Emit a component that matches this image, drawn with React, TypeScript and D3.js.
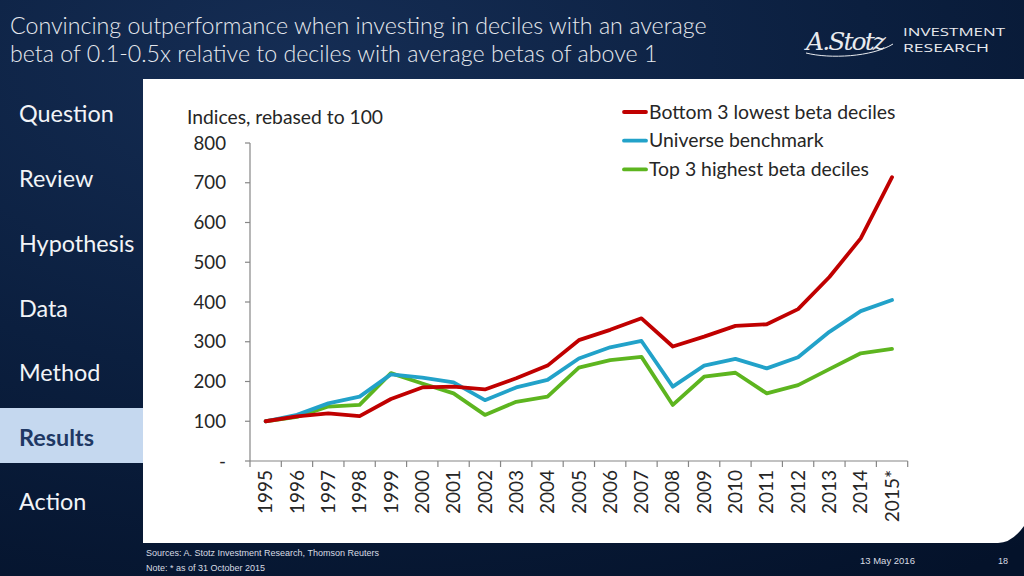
import React from "react";
import * as d3 from "d3";

const years = ["1995","1996","1997","1998","1999","2000","2001","2002","2003","2004","2005","2006","2007","2008","2009","2010","2011","2012","2013","2014","2015*"];
const lowBeta = [100,112,120,113,156,185,187,180,208,240,304,330,359,288,313,340,344,382,463,560,714];
const universe = [100,116,145,162,218,210,198,153,185,204,258,286,302,187,240,257,233,261,325,377,405];
const highBeta = [100,111,137,141,221,195,170,116,149,162,235,254,262,141,212,222,170,191,231,271,282];
const yTicks = [0,100,200,300,400,500,600,700,800];
const seriesNames = ["Bottom 3 lowest beta deciles","Universe benchmark","Top 3 highest beta deciles"];
const seriesColors = ["#c00000","#22a2c9","#5db51f"];
const navItems = ["Question","Review","Hypothesis","Data","Method","Results","Action"];
const titleLines = ["Convincing outperformance when investing in deciles with an average","beta of 0.1-0.5x relative to deciles with average betas of above 1"];

const FONT = "Lato, 'Open Sans', sans-serif";

export default function App() {
  const W = 1024, H = 576;
  const x = d3.scaleBand().domain(years).range([250, 907.7]);
  const y = d3.scaleLinear().domain([0, 800]).range([461, 143]);
  const line = d3.line<number>().x((_, i) => (x(years[i]) as number) + x.bandwidth() / 2).y((v) => y(v));
  const series = [lowBeta, universe, highBeta];
  const navY = [114, 179, 244, 309, 373, 438, 502];

  return (
    <svg width={W} height={H} style={{ display: "block", position: "absolute", left: 0, top: 0 }} fontFamily={FONT}>
      <defs>
        <radialGradient id="bg" cx="0.3" cy="0.1" r="1.1">
          <stop offset="0" stopColor="#152d54" />
          <stop offset="0.5" stopColor="#0b1f3f" />
          <stop offset="1" stopColor="#04122a" />
        </radialGradient>
      </defs>
      <rect x={0} y={0} width={W} height={H} fill="url(#bg)" />
      {/* Title */}
      {titleLines.map((t, i) => (
        <text key={i} x={10} y={34 + i * 28} fontSize={23.2} fill="#e6e9ee" fontWeight={300}>{t}</text>
      ))}
      {/* Logo */}
      <g>
        <text x={806} y={50} fontFamily="'DejaVu Serif', serif" fontStyle="italic" fontSize={25} fill="#e8eaee" textLength={80}>A.Stotz</text>
        <path d="M806,53 C830,59 872,57 893,44" stroke="#e8eaee" strokeWidth={1} fill="none" />
        <text x={903} y={36} fontSize={11} fill="#e8eaee" textLength={102} lengthAdjust="spacingAndGlyphs" fontFamily="'Open Sans', sans-serif">INVESTMENT</text>
        <text x={903} y={51.5} fontSize={11} fill="#e8eaee" textLength={86} lengthAdjust="spacingAndGlyphs" fontFamily="'Open Sans', sans-serif">RESEARCH</text>
      </g>
      {/* Sidebar */}
      <rect x={0} y={408} width={143} height={55} fill="#c5d8ef" />
      {navItems.map((n, i) => (
        <text key={n} x={19} y={navY[i]} dy="0.35em" fontSize={23.4} fill={n === "Results" ? "#1f3864" : "#f2f4f7"} fontWeight={n === "Results" ? 700 : 400}>{n}</text>
      ))}
      {/* Panel */}
      <path d="M143,79 L1024,79 L1024,526 Q1012,543 998,543 L143,543 Z" fill="#ffffff" />
      {/* Axis title */}
      <text x={187} y={117} dy="0.35em" fontSize={19.3} fill="#262626">Indices, rebased to 100</text>
      {/* Y axis */}
      <line x1={250} x2={250} y1={y(800)} y2={y(0)} stroke="#868686" strokeWidth={1.2} />
      {yTicks.map((t) => (
        <g key={t}>
          <line x1={245} x2={250} y1={y(t)} y2={y(t)} stroke="#868686" strokeWidth={1.2} />
          <text x={226} y={y(t)} dy="0.35em" textAnchor="end" fontSize={18.7} fill="#262626">{t === 0 ? "-" : t}</text>
        </g>
      ))}
      {/* X axis */}
      <line x1={250} x2={907.7} y1={y(0)} y2={y(0)} stroke="#868686" strokeWidth={1.2} />
      {years.map((yr) => (
        <line key={"t" + yr} x1={x(yr) as number} x2={x(yr) as number} y1={y(0)} y2={y(0) + 6} stroke="#868686" strokeWidth={1.2} />
      ))}
      <line x1={907.7} x2={907.7} y1={y(0)} y2={y(0) + 6} stroke="#868686" strokeWidth={1.2} />
      {years.map((yr) => {
        const cx = (x(yr) as number) + x.bandwidth() / 2;
        return (
          <text key={yr} transform={`translate(${cx},${470}) rotate(-90)`} textAnchor="end" dy="0.35em" fontSize={19} fill="#262626">{yr}</text>
        );
      })}
      {/* Lines */}
      {[2, 1, 0].map((k) => (
        <path key={k} d={line(series[k]) as string} fill="none" stroke={seriesColors[k]} strokeWidth={3.8} strokeLinejoin="round" strokeLinecap="round" />
      ))}
      {/* Legend */}
      {seriesNames.map((n, i) => (
        <g key={n}>
          <line x1={624} x2={646} y1={112 + i * 28.7} y2={112 + i * 28.7} stroke={seriesColors[i]} strokeWidth={3.8} strokeLinecap="round" />
          <text x={649} y={112 + i * 28.7} dy="0.35em" fontSize={19.4} fill="#262626">{n}</text>
        </g>
      ))}
      {/* Footer */}
      <text x={146} y={556} fontSize={9} fill="#d8dce3" fontFamily="'Liberation Sans Narrow', 'Liberation Sans', sans-serif">Sources: A. Stotz Investment Research, Thomson Reuters</text>
      <text x={146} y={571} fontSize={9} fill="#d8dce3" fontFamily="'Liberation Sans Narrow', 'Liberation Sans', sans-serif">Note: * as of 31 October 2015</text>
      <text x={860} y={564} fontSize={9.5} fill="#d8dce3" fontFamily="'Liberation Sans Narrow', 'Liberation Sans', sans-serif">13 May 2016</text>
      <text x={998} y={564} fontSize={9} fill="#d8dce3" fontFamily="'Liberation Sans Narrow', 'Liberation Sans', sans-serif">18</text>
    </svg>
  );
}
